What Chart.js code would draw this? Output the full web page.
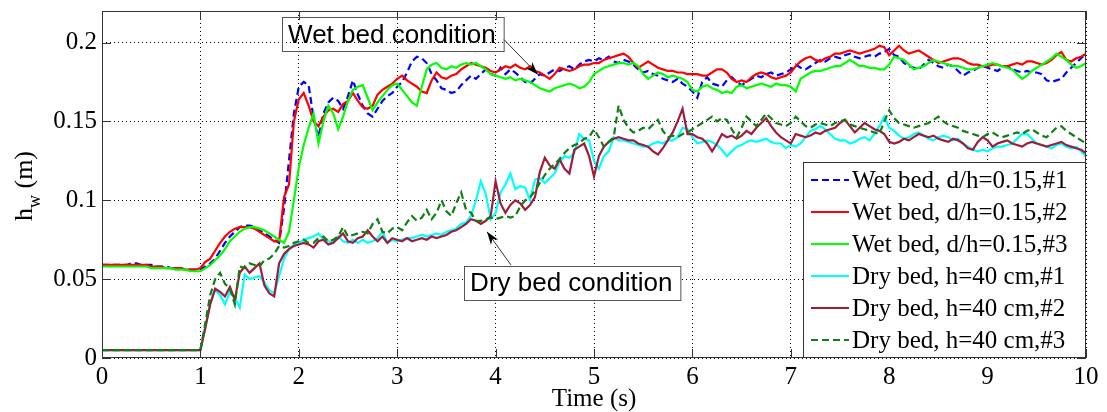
<!DOCTYPE html>
<html>
<head>
<meta charset="utf-8">
<script src="https://cdn.jsdelivr.net/npm/chart.js@4.4.1/dist/chart.umd.min.js"></script>
<style>
  html, body { margin: 0; padding: 0; background: #fff; }
  #graphContainer { width: 1107px; height: 412px; }
</style>
</head>
<body>
<div id="graphContainer"><canvas id="myChart" width="1107" height="412"></canvas></div>
<script>
// sampling times (s), every 0.05 s from 0 to 10
const time = [];
for (let i = 0; i <= 200; i++) time.push(+(i * 0.05).toFixed(2));

const xTicks = [0, 1, 2, 3, 4, 5, 6, 7, 8, 9, 10];
const yTicks = [0, 0.05, 0.1, 0.15, 0.2];

const labels = [
    "Wet bed, d/h=0.15,#1",
    "Wet bed, d/h=0.15,#2",
    "Wet bed, d/h=0.15,#3",
    "Dry bed, h=40 cm,#1",
    "Dry bed, h=40 cm,#2",
    "Dry bed, h=40 cm,#3"
];

// h_w (m), one row per second
const wetBed1 = [
    0.059,0.059,0.059,0.059,0.059,0.059,0.060,0.060,0.059,0.059,0.059,0.058,0.058,0.058,0.057,0.057,0.057,0.056,0.056,0.056,
    0.056,0.058,0.060,0.063,0.068,0.073,0.077,0.080,0.083,0.084,0.084,0.083,0.081,0.079,0.077,0.075,0.073,0.095,0.125,0.155,
    0.172,0.175,0.173,0.152,0.140,0.155,0.162,0.165,0.163,0.158,0.166,0.176,0.167,0.160,0.155,0.153,0.158,0.163,0.166,0.168,
    0.172,0.175,0.181,0.188,0.191,0.190,0.187,0.180,0.176,0.171,0.170,0.168,0.169,0.173,0.176,0.179,0.177,0.180,0.183,0.180,
    0.179,0.184,0.180,0.183,0.181,0.178,0.175,0.174,0.177,0.180,0.179,0.181,0.183,0.182,0.184,0.185,0.183,0.186,0.188,0.189,
    0.188,0.190,0.189,0.191,0.188,0.187,0.189,0.188,0.186,0.183,0.181,0.182,0.180,0.179,0.177,0.176,0.175,0.177,0.174,0.172,
    0.169,0.165,0.175,0.178,0.174,0.173,0.172,0.176,0.178,0.175,0.173,0.175,0.177,0.179,0.178,0.180,0.181,0.179,0.180,0.181,
    0.183,0.186,0.184,0.183,0.185,0.187,0.189,0.188,0.190,0.191,0.190,0.192,0.193,0.191,0.190,0.191,0.192,0.191,0.193,0.194,
    0.196,0.192,0.191,0.187,0.185,0.184,0.183,0.186,0.189,0.187,0.185,0.184,0.186,0.185,0.182,0.179,0.181,0.182,0.184,0.185,
    0.184,0.183,0.182,0.184,0.185,0.183,0.182,0.181,0.182,0.181,0.181,0.180,0.176,0.175,0.176,0.177,0.181,0.184,0.187,0.190,
    0.193
];
const wetBed2 = [
    0.059,0.059,0.059,0.059,0.059,0.059,0.059,0.059,0.059,0.059,0.058,0.058,0.058,0.057,0.057,0.057,0.057,0.056,0.056,0.056,
    0.057,0.061,0.063,0.068,0.073,0.077,0.080,0.082,0.083,0.083,0.083,0.082,0.080,0.078,0.076,0.074,0.074,0.102,0.110,0.150,
    0.164,0.168,0.160,0.150,0.147,0.153,0.157,0.158,0.156,0.161,0.163,0.168,0.163,0.159,0.158,0.160,0.167,0.170,0.172,0.174,
    0.177,0.179,0.176,0.174,0.172,0.169,0.168,0.176,0.181,0.178,0.177,0.179,0.180,0.183,0.185,0.187,0.186,0.185,0.184,0.182,
    0.181,0.183,0.185,0.184,0.186,0.184,0.183,0.185,0.182,0.181,0.179,0.177,0.180,0.184,0.183,0.182,0.183,0.185,0.186,0.186,
    0.187,0.187,0.189,0.190,0.191,0.192,0.193,0.191,0.187,0.184,0.186,0.188,0.186,0.184,0.183,0.182,0.182,0.181,0.181,0.180,
    0.180,0.180,0.179,0.179,0.181,0.183,0.183,0.181,0.177,0.175,0.176,0.175,0.178,0.180,0.181,0.180,0.178,0.177,0.178,0.179,
    0.181,0.185,0.188,0.190,0.191,0.189,0.188,0.190,0.191,0.193,0.193,0.194,0.195,0.194,0.193,0.194,0.195,0.196,0.198,0.197,
    0.192,0.195,0.198,0.195,0.193,0.194,0.195,0.193,0.191,0.189,0.187,0.188,0.189,0.190,0.190,0.189,0.187,0.186,0.186,0.185,
    0.185,0.186,0.186,0.185,0.185,0.186,0.187,0.186,0.188,0.188,0.187,0.186,0.187,0.189,0.192,0.194,0.189,0.188,0.190,0.191,
    0.193
];
const wetBed3 = [
    0.058,0.058,0.058,0.058,0.058,0.058,0.058,0.058,0.058,0.058,0.057,0.057,0.057,0.057,0.057,0.056,0.056,0.056,0.055,0.055,
    0.055,0.057,0.059,0.062,0.065,0.069,0.074,0.077,0.080,0.082,0.083,0.083,0.082,0.081,0.079,0.077,0.075,0.073,0.080,0.100,
    0.121,0.135,0.146,0.155,0.136,0.150,0.160,0.155,0.145,0.153,0.163,0.170,0.172,0.173,0.165,0.157,0.162,0.166,0.170,0.173,
    0.174,0.170,0.166,0.162,0.160,0.172,0.183,0.186,0.187,0.184,0.183,0.185,0.184,0.186,0.187,0.186,0.187,0.185,0.183,0.180,
    0.179,0.178,0.177,0.178,0.176,0.177,0.176,0.175,0.173,0.171,0.170,0.169,0.171,0.172,0.173,0.174,0.173,0.171,0.172,0.175,
    0.180,0.182,0.184,0.185,0.186,0.187,0.187,0.186,0.187,0.185,0.180,0.177,0.179,0.181,0.180,0.178,0.179,0.178,0.177,0.175,
    0.170,0.169,0.172,0.173,0.171,0.170,0.168,0.169,0.168,0.172,0.173,0.171,0.172,0.173,0.174,0.173,0.172,0.174,0.173,0.173,
    0.172,0.169,0.177,0.179,0.181,0.182,0.182,0.183,0.184,0.185,0.185,0.187,0.189,0.187,0.185,0.185,0.184,0.184,0.183,0.183,
    0.186,0.191,0.190,0.189,0.186,0.183,0.184,0.185,0.187,0.189,0.188,0.187,0.186,0.185,0.185,0.184,0.183,0.183,0.184,0.185,
    0.186,0.187,0.186,0.185,0.184,0.183,0.180,0.177,0.179,0.182,0.184,0.186,0.188,0.190,0.193,0.191,0.189,0.186,0.184,0.185,
    0.187
];
const dryBed1 = [
    0.005,0.005,0.005,0.005,0.005,0.005,0.005,0.005,0.005,0.005,0.005,0.005,0.005,0.005,0.005,0.005,0.005,0.005,0.005,0.005,
    0.005,0.020,0.035,0.043,0.040,0.034,0.042,0.038,0.032,0.053,0.050,0.051,0.052,0.048,0.043,0.041,0.052,0.063,0.069,0.072,
    0.073,0.075,0.076,0.077,0.079,0.075,0.074,0.073,0.077,0.074,0.073,0.075,0.073,0.075,0.073,0.074,0.076,0.080,0.073,0.075,
    0.074,0.075,0.076,0.076,0.077,0.078,0.077,0.078,0.079,0.078,0.080,0.081,0.082,0.085,0.086,0.090,0.100,0.112,0.104,0.088,
    0.092,0.105,0.110,0.117,0.107,0.109,0.108,0.100,0.113,0.114,0.111,0.114,0.117,0.124,0.128,0.127,0.130,0.142,0.139,0.138,
    0.125,0.120,0.128,0.131,0.140,0.138,0.138,0.137,0.136,0.135,0.134,0.134,0.136,0.137,0.136,0.138,0.138,0.140,0.146,0.145,
    0.140,0.136,0.137,0.138,0.137,0.135,0.132,0.128,0.131,0.134,0.135,0.137,0.138,0.137,0.138,0.139,0.137,0.136,0.136,0.133,
    0.135,0.134,0.136,0.140,0.144,0.145,0.147,0.145,0.142,0.139,0.138,0.138,0.136,0.137,0.139,0.140,0.138,0.142,0.147,0.153,
    0.146,0.144,0.141,0.139,0.140,0.142,0.143,0.141,0.139,0.138,0.140,0.141,0.140,0.138,0.139,0.136,0.134,0.132,0.131,0.132,
    0.131,0.133,0.134,0.134,0.135,0.136,0.139,0.142,0.142,0.139,0.136,0.135,0.134,0.133,0.135,0.136,0.134,0.133,0.134,0.131,
    0.128
];
const dryBed2 = [
    0.005,0.005,0.005,0.005,0.005,0.005,0.005,0.005,0.005,0.005,0.005,0.005,0.005,0.005,0.005,0.005,0.005,0.005,0.005,0.005,
    0.005,0.019,0.034,0.044,0.042,0.039,0.045,0.037,0.054,0.058,0.054,0.057,0.060,0.046,0.041,0.039,0.060,0.066,0.069,0.071,
    0.072,0.073,0.072,0.070,0.074,0.075,0.072,0.073,0.076,0.079,0.074,0.073,0.076,0.077,0.081,0.077,0.074,0.077,0.073,0.076,
    0.075,0.074,0.076,0.074,0.075,0.076,0.075,0.077,0.076,0.077,0.078,0.080,0.081,0.083,0.085,0.088,0.087,0.085,0.087,0.090,
    0.112,0.098,0.092,0.097,0.100,0.098,0.094,0.097,0.102,0.118,0.127,0.122,0.120,0.126,0.120,0.117,0.132,0.134,0.136,0.128,
    0.115,0.128,0.134,0.137,0.139,0.140,0.139,0.138,0.138,0.136,0.135,0.134,0.131,0.129,0.133,0.138,0.143,0.150,0.158,0.142,
    0.142,0.140,0.139,0.136,0.131,0.136,0.142,0.140,0.141,0.139,0.141,0.144,0.142,0.146,0.149,0.152,0.147,0.143,0.140,0.138,
    0.136,0.142,0.141,0.140,0.141,0.143,0.142,0.144,0.145,0.146,0.149,0.151,0.147,0.143,0.146,0.149,0.147,0.145,0.144,0.142,
    0.137,0.136,0.137,0.139,0.138,0.140,0.142,0.141,0.140,0.141,0.139,0.138,0.137,0.139,0.138,0.136,0.133,0.132,0.137,0.140,
    0.138,0.134,0.136,0.137,0.138,0.136,0.135,0.134,0.136,0.137,0.136,0.135,0.134,0.135,0.136,0.137,0.135,0.134,0.133,0.132,
    0.130
];
const dryBed3 = [
    0.005,0.005,0.005,0.005,0.005,0.005,0.005,0.005,0.005,0.005,0.005,0.005,0.005,0.005,0.005,0.005,0.005,0.005,0.005,0.005,
    0.005,0.022,0.040,0.050,0.054,0.047,0.044,0.034,0.058,0.057,0.060,0.059,0.058,0.062,0.063,0.066,0.071,0.070,0.071,0.073,
    0.074,0.075,0.073,0.073,0.076,0.077,0.074,0.075,0.077,0.083,0.077,0.078,0.079,0.080,0.079,0.085,0.088,0.080,0.079,0.082,
    0.083,0.081,0.086,0.090,0.087,0.089,0.094,0.088,0.092,0.100,0.093,0.090,0.098,0.105,0.094,0.092,0.087,0.087,0.088,0.089,
    0.088,0.089,0.090,0.089,0.090,0.096,0.100,0.102,0.106,0.111,0.116,0.120,0.123,0.126,0.130,0.133,0.135,0.136,0.139,0.140,
    0.145,0.140,0.134,0.137,0.140,0.160,0.151,0.146,0.143,0.144,0.146,0.145,0.148,0.151,0.144,0.140,0.141,0.140,0.142,0.143,
    0.145,0.147,0.149,0.151,0.153,0.150,0.152,0.151,0.145,0.140,0.146,0.153,0.150,0.147,0.151,0.155,0.152,0.149,0.148,0.147,
    0.149,0.153,0.150,0.147,0.146,0.148,0.149,0.148,0.147,0.149,0.150,0.151,0.148,0.147,0.146,0.145,0.144,0.143,0.142,0.150,
    0.157,0.152,0.149,0.148,0.147,0.146,0.147,0.148,0.149,0.151,0.153,0.150,0.148,0.147,0.146,0.144,0.143,0.142,0.141,0.140,
    0.142,0.143,0.141,0.140,0.141,0.142,0.143,0.142,0.144,0.145,0.143,0.141,0.140,0.143,0.146,0.147,0.144,0.142,0.140,0.138,
    0.136
];

const series = [wetBed1, wetBed2, wetBed3, dryBed1, dryBed2, dryBed3];
const colors = ["#0000ff", "#ff0000", "#00ff00", "#00ffff", "#a01c3c", "#0f7f12"];
const dashes = [[7, 4], [], [], [], [], [7, 4]];

// text boxes with arrows: top-left corner, arrow tail and tip, in data units
const notes = [
    {text: "Wet bed condition", t: 1.83, h: 0.2159, fill: false, tailT: 4.085, tailH: 0.2019, tipT: 4.43, tipH: 0.1797},
    {text: "Dry bed condition", t: 3.68, h: 0.0584, fill: true, tailT: 4.156, tailH: 0.059, tipT: 3.913, tipH: 0.080}
];

const serif = "'Liberation Serif', 'Times New Roman', serif";
const sans = "'Liberation Sans', Arial, sans-serif";

const decor = {
    id: "decor",
    afterDatasetsDraw(chart) {
        const {ctx, chartArea: ca, scales: {x, y}} = chart;
        ctx.save();

        // axes box + inward ticks
        ctx.strokeStyle = "#333";
        ctx.lineWidth = 1;
        ctx.strokeRect(ca.left + 0.5, ca.top + 0.5, ca.width - 1, ca.height - 1);
        ctx.beginPath();
        xTicks.forEach(v => {
            const px = Math.round(x.getPixelForValue(v)) + 0.5;
            ctx.moveTo(px, ca.bottom); ctx.lineTo(px, ca.bottom - 9);
            ctx.moveTo(px, ca.top); ctx.lineTo(px, ca.top + 9);
        });
        yTicks.forEach(v => {
            const py = Math.round(y.getPixelForValue(v)) + 0.5;
            ctx.moveTo(ca.left, py); ctx.lineTo(ca.left + 9, py);
            ctx.moveTo(ca.right, py); ctx.lineTo(ca.right - 9, py);
        });
        ctx.stroke();

        // legend, lower right inside the axes
        const lw = 283, lh = 196;
        const lx = ca.right - lw, ly = ca.bottom - lh;
        ctx.fillStyle = "#fff";
        ctx.fillRect(lx, ly, lw, lh);
        ctx.strokeStyle = "#333";
        ctx.strokeRect(lx + 0.5, ly + 0.5, lw - 1, lh - 1);
        ctx.font = "25px " + serif;
        ctx.textBaseline = "middle";
        chart.data.datasets.forEach((ds, i) => {
            const ry = ly + 18 + i * 32;
            ctx.beginPath();
            ctx.strokeStyle = ds.borderColor;
            ctx.lineWidth = 2;
            ctx.setLineDash(ds.borderDash || []);
            ctx.moveTo(lx + 8, ry); ctx.lineTo(lx + 46, ry);
            ctx.stroke();
            ctx.setLineDash([]);
            ctx.fillStyle = "#000";
            ctx.fillText(ds.label, lx + 49, ry + 1);
        });

        // annotations
        ctx.font = "26px " + sans;
        notes.forEach(n => {
            const bx = x.getPixelForValue(n.t), by = y.getPixelForValue(n.h);
            const bw = ctx.measureText(n.text).width + 14, bh = 34;
            if (n.fill) { ctx.fillStyle = "#fff"; ctx.fillRect(bx, by, bw, bh); }
            ctx.strokeStyle = "#555";
            ctx.lineWidth = 1;
            ctx.strokeRect(Math.round(bx) + 0.5, Math.round(by) + 0.5, bw, bh);
            ctx.fillStyle = "#000";
            ctx.fillText(n.text, bx + 6, by + bh / 2 + 1);

            const x0 = x.getPixelForValue(n.tailT), y0 = y.getPixelForValue(n.tailH);
            const x1 = x.getPixelForValue(n.tipT), y1 = y.getPixelForValue(n.tipH);
            const ang = Math.atan2(y1 - y0, x1 - x0);
            ctx.beginPath();
            ctx.strokeStyle = "#333";
            ctx.moveTo(x0, y0); ctx.lineTo(x1, y1);
            ctx.stroke();
            ctx.beginPath();
            ctx.fillStyle = "#000";
            ctx.moveTo(x1, y1);
            ctx.lineTo(x1 - 13 * Math.cos(ang) + 4.5 * Math.sin(ang), y1 - 13 * Math.sin(ang) - 4.5 * Math.cos(ang));
            ctx.lineTo(x1 - 9 * Math.cos(ang), y1 - 9 * Math.sin(ang));
            ctx.lineTo(x1 - 13 * Math.cos(ang) - 4.5 * Math.sin(ang), y1 - 13 * Math.sin(ang) + 4.5 * Math.cos(ang));
            ctx.closePath();
            ctx.fill();
        });

        // y axis label h_w (m) with subscript
        ctx.translate(32, 186);
        ctx.rotate(-Math.PI / 2);
        ctx.fillStyle = "#000";
        ctx.textBaseline = "alphabetic";
        const big = "26px " + serif, small = "18px " + serif;
        ctx.font = big; const wH = ctx.measureText("h").width, wM = ctx.measureText(" (m)").width;
        ctx.font = small; const wW = ctx.measureText("w").width;
        let cx = -(wH + wW + wM) / 2;
        ctx.font = big; ctx.fillText("h", cx, 0); cx += wH;
        ctx.font = small; ctx.fillText("w", cx, 8); cx += wW;
        ctx.font = big; ctx.fillText(" (m)", cx, 0);

        ctx.restore();
    }
};

Chart.defaults.font.family = serif;
Chart.defaults.color = "#000";

new Chart(document.getElementById("myChart").getContext("2d"), {
    type: "line",
    data: {
        datasets: series.map((vals, i) => ({
            label: labels[i],
            data: vals.map((v, k) => ({x: time[k], y: v})),
            borderColor: colors[i],
            backgroundColor: colors[i],
            borderDash: dashes[i],
            borderWidth: 2.2,
            pointRadius: 0,
            tension: 0,
            fill: false,
            order: series.length - i   // later series drawn on top
        }))
    },
    options: {
        responsive: false,
        animation: false,
        devicePixelRatio: 1,
        layout: {padding: {top: 11, right: 21, left: 0, bottom: 0}},
        plugins: {
            legend: {display: false},
            tooltip: {enabled: false}
        },
        scales: {
            x: {
                type: "linear",
                min: 0,
                max: 10,
                afterBuildTicks: s => { s.ticks = xTicks.map(v => ({value: v})); },
                afterFit: s => { s.height = 54; s.paddingLeft = 0; s.paddingRight = 0; },
                ticks: {font: {size: 25}, padding: 4, maxRotation: 0},
                grid: {color: "#000", lineWidth: 1, drawTicks: false},
                border: {display: false, dash: [1, 3]},
                title: {display: true, text: "Time (s)", font: {size: 25, lineHeight: 1}, padding: {top: 4, bottom: 0}}
            },
            y: {
                type: "linear",
                min: 0,
                max: 0.22,
                afterBuildTicks: s => { s.ticks = yTicks.map(v => ({value: v})); },
                afterFit: s => { s.width = 102; s.paddingTop = 0; s.paddingBottom = 0; },
                ticks: {font: {size: 25}, padding: 5, callback: v => String(+v.toFixed(2))},
                grid: {color: "#000", lineWidth: 1, drawTicks: false},
                border: {display: false, dash: [1, 3]}
            }
        }
    },
    plugins: [decor]
});
</script>
</body>
</html>
